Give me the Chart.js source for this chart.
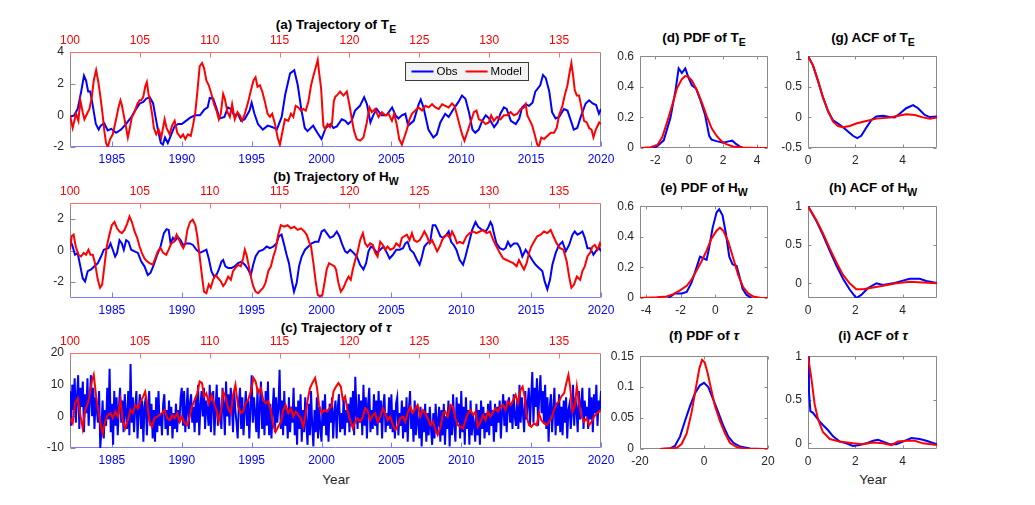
<!DOCTYPE html>
<html>
<head>
<meta charset="utf-8">
<script src="https://cdn.jsdelivr.net/npm/chart.js@4.4.1/dist/chart.umd.min.js"></script>
<style>
  body { margin: 0; width: 1035px; height: 505px; overflow: hidden; position: relative; background: #fff;
         font-family: "Liberation Sans", Arial, sans-serif; }
  canvas { position: absolute; }
  .ttl { position: absolute; font-weight: bold; font-size: 13.5px; line-height: 16px; text-align: center; color: #000; white-space: nowrap; }
  .ttl sub { font-size: 10.5px; vertical-align: -4px; line-height: 0; }
  .xl { position: absolute; font-size: 13.5px; line-height: 16px; color: #262626; text-align: center; }
</style>
</head>
<body>
<div class="ttl" style="left:236px;top:17px;width:200px">(a) Trajectory of T<sub>E</sub></div>
<div class="ttl" style="left:236px;top:169px;width:200px">(b) Trajectory of H<sub>W</sub></div>
<div class="ttl" style="left:236px;top:320px;width:200px">(c) Trajectory of <i>τ</i></div>
<div class="ttl" style="left:634px;top:30px;width:140px">(d) PDF of T<sub>E</sub></div>
<div class="ttl" style="left:634px;top:180px;width:140px">(e) PDF of H<sub>W</sub></div>
<div class="ttl" style="left:634px;top:328px;width:140px">(f) PDF of <i>τ</i></div>
<div class="ttl" style="left:803px;top:30px;width:140px">(g) ACF of T<sub>E</sub></div>
<div class="ttl" style="left:803px;top:180px;width:140px">(h) ACF of H<sub>W</sub></div>
<div class="ttl" style="left:803px;top:328px;width:140px">(i) ACF of <i>τ</i></div>
<div class="xl" style="left:296px;top:472px;width:80px">Year</div>
<div class="xl" style="left:833px;top:472px;width:80px">Year</div>
<script>
// ---- axis ticks ----
const yearTicks = [1985, 1990, 1995, 2000, 2005, 2010, 2015, 2020];
const modelTicks = [100, 105, 110, 115, 120, 125, 130, 135];
const teTicks = [-2, 0, 2, 4];
const hwTicks = [-2, 0, 2];
const tauTicks = [-10, 0, 10, 20];
const pdfTeXTicks = [-2, 0, 2, 4];
const pdfHwXTicks = [-4, -2, 0, 2];
const pdfTauXTicks = [-20, 0, 20];
const pdfYTicks = [0, 0.2, 0.4, 0.6];
const pdfTauYTicks = [0, 0.05, 0.1, 0.15];
const lagTicks = [0, 2, 4];
const acfTeYTicks = [-0.5, 0, 0.5, 1];
const acfYTicks = [0, 0.5, 1];

// ---- (a) T_E trajectories ----
const teObsYear = [
  1982.0,1982.3,1982.55,1982.8,1983.0,1983.15,1983.3,1983.45,1983.65,1983.85,
  1984.05,1984.2,1984.45,1984.7,1984.95,1985.3,1985.65,1986.0,1986.4,1986.65,
  1987.0,1987.25,1987.45,1987.7,1987.95,1988.1,1988.3,1988.5,1988.65,1988.8,
  1989.0,1989.25,1989.5,1989.75,1990.0,1990.3,1990.6,1990.95,1991.3,1991.6,
  1991.85,1992.0,1992.25,1992.5,1992.7,1993.05,1993.3,1993.5,1993.75,1994.0,
  1994.25,1994.5,1994.85,1995.0,1995.2,1995.45,1995.8,1996.15,1996.5,1996.8,
  1997.15,1997.4,1997.75,1998.05,1998.3,1998.55,1998.8,1999.0,1999.4,1999.7,
  2000.0,2000.3,2000.65,2000.85,2001.1,2001.45,2001.7,2001.9,2002.15,2002.4,
  2002.75,2003.05,2003.25,2003.5,2003.7,2003.95,2004.3,2004.65,2005.05,2005.3,
  2005.5,2005.75,2006.0,2006.2,2006.6,2006.95,2007.1,2007.3,2007.65,2008.0,
  2008.25,2008.5,2008.85,2009.1,2009.45,2009.8,2010.05,2010.3,2010.55,2010.8,
  2011.0,2011.25,2011.5,2011.75,2012.0,2012.35,2012.6,2012.8,2013.05,2013.25,
  2013.55,2013.9,2014.15,2014.35,2014.6,2014.85,2015.1,2015.3,2015.65,2015.85,
  2016.05,2016.3,2016.5,2016.75,2017.0,2017.35,2017.6,2017.85,2018.05,2018.3,
  2018.55,2018.9,2019.15,2019.4,2019.65,2019.85,2020.0];
const teObsVal = [
  -0.1,0.0,0.4,1.5,2.5,2.2,1.5,1.5,0.5,-0.55,
  -0.9,-0.65,-0.5,-0.95,-0.85,-1.1,-0.9,-0.55,-0.1,0.3,
  0.75,0.85,1.05,1.15,0.75,0.0,-0.95,-1.75,-1.85,-1.4,
  -1.75,-1.2,-0.65,-0.55,-0.55,-0.35,-0.15,0.0,0.0,0.35,
  0.5,1.1,1.05,0.4,-0.2,-0.1,0.5,0.4,0.0,0.1,
  -0.35,-0.25,0.3,0.8,0.1,-0.55,-0.9,-0.65,-0.75,-0.9,
  -0.1,1.3,2.65,2.85,1.9,0.4,-0.8,-1.0,-0.65,-1.1,
  -1.5,-0.8,-0.55,-0.8,-0.7,-0.25,-0.35,-0.55,-0.35,0.3,
  0.6,1.15,0.7,-0.45,0.0,0.4,0.0,0.0,0.5,0.0,
  -0.2,0.0,0.1,-0.65,-0.35,0.7,1.0,0.5,-0.9,-1.4,
  -1.2,-0.45,0.1,-0.1,0.4,0.85,1.25,1.05,0.2,-0.9,
  -1.1,-0.9,-0.35,0.0,-0.2,-0.75,-0.45,0.1,0.5,0.4,
  -0.35,-0.55,-0.2,0.5,0.7,0.6,0.8,1.5,1.9,2.55,
  2.35,1.5,0.2,-0.2,-0.1,0.4,0.3,-0.35,-0.9,-0.8,
  -0.1,0.75,0.95,0.75,0.65,0.1,0.4];
const teModelTime = [
  100.0,100.19,100.43,100.6,100.74,100.91,101.03,101.22,101.39,101.56,
  101.7,101.87,102.03,102.18,102.34,102.46,102.58,102.7,102.87,103.06,
  103.3,103.47,103.61,103.71,103.85,104.02,104.14,104.26,104.43,104.62,
  104.81,104.98,105.1,105.24,105.38,105.5,105.62,105.77,105.89,106.0,
  106.17,106.34,106.53,106.77,106.91,107.13,107.3,107.49,107.68,107.92,
  108.09,108.25,108.44,108.64,108.8,108.97,109.11,109.28,109.45,109.59,
  109.76,109.93,110.12,110.31,110.48,110.65,110.79,110.96,111.08,111.27,
  111.44,111.6,111.79,111.99,112.15,112.32,112.51,112.75,112.94,113.13,
  113.28,113.42,113.59,113.76,113.95,114.14,114.31,114.47,114.67,114.86,
  115.02,115.19,115.38,115.62,115.81,115.98,116.15,116.34,116.53,116.7,
  116.87,117.06,117.25,117.42,117.58,117.73,117.82,117.97,118.13,118.25,
  118.44,118.61,118.75,118.88,119.0,119.09,119.33,119.57,119.81,120.0,
  120.17,120.33,120.52,120.76,121.0,121.24,121.43,121.6,121.84,122.08,
  122.32,122.56,122.8,123.04,123.2,123.4,123.56,123.75,123.92,124.11,
  124.3,124.47,124.71,124.95,125.19,125.43,125.67,125.91,126.15,126.39,
  126.63,126.86,127.1,127.34,127.51,127.7,127.89,128.06,128.23,128.42,
  128.66,128.9,129.09,129.26,129.5,129.74,129.97,130.14,130.33,130.57,
  130.81,131.05,131.29,131.53,131.77,132.01,132.25,132.49,132.61,132.73,
  132.92,133.08,133.25,133.44,133.56,133.73,133.92,134.16,134.4,134.64,
  134.83,135.0,135.24,135.4,135.6,135.72,135.88,136.0,136.12,136.27,
  136.43,136.6,136.79,136.98,137.15,137.32,137.46,137.63,137.87,138.0];
const teModelVal = [
  0.0,-0.8,0.1,-0.35,0.95,0.2,-0.25,0.1,0.4,1.15,
  2.2,2.85,2.1,1.15,0.0,-1.0,-1.75,-2.0,-1.5,-1.2,
  -0.25,0.5,0.95,0.65,0.0,-0.8,-1.4,-0.9,-0.1,0.2,
  0.7,0.95,0.95,1.15,1.8,2.1,1.35,0.65,0.0,-0.8,
  -1.2,-0.9,-1.4,-0.25,-0.8,-1.2,-0.65,-0.35,-1.1,-1.4,
  -1.2,-1.5,-1.2,-1.3,-0.65,0.2,1.45,3.1,3.3,3.0,
  2.2,1.9,1.35,0.7,0.3,-0.25,0.1,1.35,1.05,0.2,
  -0.1,0.7,-0.25,0.2,0.0,-0.35,0.1,0.85,1.55,2.2,
  2.4,1.8,1.9,1.5,0.85,0.1,-0.1,0.1,-0.55,-1.4,
  -1.85,-1.1,-0.25,-0.35,0.1,-0.1,0.6,0.5,0.3,0.4,
  0.3,0.85,1.9,2.5,3.0,3.5,2.75,1.7,-0.65,-0.85,
  -0.55,-0.75,-0.5,0.9,1.2,1.25,1.5,1.25,1.5,0.65,
  -0.25,-1.0,-1.5,-1.6,-1.4,-0.45,0.5,0.2,0.4,-0.1,
  0.2,0.0,0.1,-0.35,0.1,-0.65,-1.5,-1.85,-1.4,-0.9,
  -0.25,0.1,0.3,0.5,0.3,0.6,0.5,0.7,0.5,0.4,
  0.7,0.6,0.5,0.75,0.6,0.0,-0.65,-1.2,-1.6,-1.1,
  -0.45,0.2,0.3,-0.25,-0.35,-0.55,-0.45,0.0,-0.35,-0.1,
  -0.25,0.0,0.0,0.2,0.0,0.1,0.4,0.5,0.7,0.0,
  -0.35,-0.65,-1.2,-1.85,-1.95,-1.4,-1.5,-1.3,-1.1,-1.1,
  -0.8,0.0,0.6,1.25,1.9,2.55,3.3,2.55,1.6,1.25,
  1.25,0.5,-0.35,-0.45,-0.8,-0.9,-1.4,-0.9,-0.45,-0.55];

// ---- (b) H_W trajectories ----
const hwObsYear = [
  1982.0,1982.19,1982.36,1982.55,1982.74,1982.91,1983.08,1983.27,1983.51,1983.75,
  1983.99,1984.22,1984.42,1984.58,1984.75,1984.9,1985.06,1985.23,1985.37,1985.54,
  1985.71,1985.85,1986.02,1986.19,1986.38,1986.62,1986.86,1987.1,1987.33,1987.57,
  1987.77,1988.0,1988.24,1988.48,1988.72,1988.91,1989.06,1989.2,1989.37,1989.54,
  1989.73,1989.92,1990.09,1990.33,1990.56,1990.8,1991.04,1991.28,1991.52,1991.76,
  1991.93,1992.12,1992.31,1992.48,1992.65,1992.84,1992.96,1993.12,1993.32,1993.56,
  1993.79,1994.03,1994.27,1994.51,1994.75,1994.94,1995.11,1995.28,1995.52,1995.83,
  1996.07,1996.31,1996.55,1996.78,1996.95,1997.14,1997.33,1997.5,1997.67,1997.86,
  1998.03,1998.22,1998.39,1998.58,1998.82,1999.06,1999.3,1999.54,1999.78,2000.01,
  2000.2,2000.37,2000.61,2000.85,2001.09,2001.28,2001.45,2001.69,2001.85,2002.05,
  2002.29,2002.52,2002.76,2003.0,2003.19,2003.36,2003.53,2003.72,2003.96,2004.2,
  2004.44,2004.68,2004.87,2005.11,2005.35,2005.59,2005.83,2006.0,2006.16,2006.35,
  2006.59,2006.83,2007.02,2007.19,2007.36,2007.55,2007.79,2007.96,2008.15,2008.31,
  2008.5,2008.7,2008.86,2009.1,2009.27,2009.46,2009.65,2009.89,2010.13,2010.3,
  2010.54,2010.78,2011.02,2011.21,2011.5,2011.74,2011.9,2012.09,2012.21,2012.33,
  2012.52,2012.76,2013.0,2013.17,2013.34,2013.53,2013.77,2014.01,2014.2,2014.37,
  2014.61,2014.85,2015.08,2015.32,2015.56,2015.8,2015.97,2016.16,2016.35,2016.52,
  2016.76,2017.0,2017.24,2017.48,2017.72,2017.96,2018.12,2018.31,2018.51,2018.67,
  2018.84,2019.03,2019.22,2019.46,2019.7,2019.87,2020.0];
const hwObsVal = [
  0.7,0.25,-0.27,-0.17,-1.0,-1.75,-1.95,-1.3,-1.2,-1.0,
  -0.8,-0.38,0.05,0.1,0.15,0.45,0.05,-0.38,-0.15,0.65,
  0.45,0.05,0.65,0.55,0.05,-0.05,-0.15,-0.7,-1.0,-1.55,
  -1.4,-0.9,-0.27,0.25,1.1,1.35,1.3,0.45,0.8,0.65,
  0.85,0.65,0.35,0.45,0.45,0.35,0.05,-0.15,-0.05,0.05,
  -0.5,-1.3,-1.65,-1.55,-1.2,-0.7,-0.6,-1.0,-1.1,-1.1,
  -1.0,-0.8,-0.7,-0.9,-1.2,-1.55,-0.9,-0.38,-0.05,0.05,
  0.25,0.15,0.25,0.45,0.9,1.0,0.35,-0.27,-0.8,-1.85,
  -2.6,-2.05,-1.0,-0.38,0.05,0.25,0.45,0.55,0.55,1.2,
  1.3,1.1,0.8,0.9,1.2,0.9,0.45,-0.05,-0.15,0.05,
  -0.15,-0.38,-0.9,-1.2,-0.8,-0.05,0.25,0.15,-0.15,0.05,
  0.25,-0.15,-0.5,-0.27,0.05,0.05,0.15,0.45,0.55,0.05,
  -0.15,-0.6,-0.9,-0.38,0.25,0.45,0.65,1.6,1.6,1.3,
  0.9,0.8,0.9,1.2,0.55,0.35,0.05,-0.6,-0.9,-0.38,
  0.45,1.3,1.8,1.5,1.3,1.2,1.4,1.8,1.6,1.1,
  0.45,0.15,0.05,0.15,0.55,0.25,0.45,0.45,0.15,-0.38,
  0.05,-0.27,-0.6,-0.9,-1.1,-1.3,-1.95,-2.45,-1.85,-0.9,
  -0.15,0.35,0.55,-0.05,0.35,1.0,1.2,1.0,1.1,1.2,
  0.8,0.15,0.15,-0.27,0.05,0.15,-0.05];
const hwModelTime = [
  100.0,100.12,100.26,100.41,100.6,100.79,100.98,101.15,101.32,101.46,
  101.63,101.79,101.99,102.15,102.3,102.46,102.63,102.82,102.99,103.18,
  103.37,103.54,103.71,103.9,104.09,104.26,104.43,104.62,104.81,104.98,
  105.14,105.33,105.53,105.69,105.93,106.1,106.29,106.48,106.67,106.89,
  107.06,107.25,107.44,107.63,107.82,107.97,108.11,108.25,108.4,108.59,
  108.78,108.97,109.11,109.28,109.45,109.59,109.76,109.93,110.07,110.24,
  110.41,110.6,110.79,110.96,111.12,111.32,111.51,111.67,111.84,112.03,
  112.22,112.39,112.51,112.63,112.8,112.94,113.11,113.28,113.47,113.66,
  113.83,113.99,114.19,114.38,114.55,114.71,114.9,115.09,115.33,115.57,
  115.81,116.05,116.29,116.53,116.77,116.94,117.11,117.25,117.42,117.58,
  117.73,117.89,118.06,118.21,118.37,118.54,118.73,118.92,119.04,119.21,
  119.38,119.57,119.76,119.93,120.09,120.24,120.41,120.57,120.76,120.96,
  121.12,121.29,121.48,121.67,121.84,122.01,122.2,122.39,122.56,122.73,
  122.92,123.16,123.35,123.59,123.75,123.92,124.11,124.3,124.47,124.64,
  124.83,125.02,125.19,125.36,125.55,125.74,125.91,126.07,126.27,126.46,
  126.63,126.79,126.98,127.18,127.34,127.51,127.7,127.89,128.13,128.37,
  128.61,128.85,129.09,129.33,129.57,129.81,130.05,130.29,130.52,130.76,
  131.0,131.24,131.48,131.72,131.96,132.13,132.3,132.49,132.68,132.85,
  133.01,133.2,133.44,133.68,133.92,134.16,134.4,134.59,134.83,135.07,
  135.31,135.55,135.72,135.88,136.07,136.27,136.51,136.67,136.84,137.03,
  137.22,137.39,137.56,137.75,137.92,138.0];
const hwModelVal = [
  0.05,0.9,1.0,0.25,-0.27,-0.38,-0.15,-0.27,0.05,-0.27,
  -0.27,-0.8,-1.85,-2.35,-2.15,-1.0,0.25,1.0,1.6,1.8,
  1.4,1.2,1.1,1.3,1.7,2.15,1.8,1.2,0.8,0.25,
  -0.15,-0.5,-0.7,-0.8,-0.9,-0.5,-0.05,0.15,-0.15,-0.27,
  0.05,0.45,0.55,1.0,0.65,0.35,0.15,0.45,1.3,1.8,
  1.95,1.6,0.9,-0.38,-1.65,-2.6,-2.7,-2.15,-2.35,-1.85,
  -1.55,-1.75,-1.95,-2.25,-2.05,-1.65,-1.85,-1.3,-1.1,-0.9,
  -1.0,-0.5,0.05,-0.27,-1.0,-1.65,-2.25,-2.6,-2.7,-2.5,
  -2.35,-2.05,-1.3,-1.0,-0.38,0.05,1.0,1.6,1.5,1.6,
  1.4,1.5,1.3,1.4,1.2,1.0,0.55,0.25,-0.8,-1.95,
  -2.8,-2.9,-2.8,-2.05,-1.2,-0.8,-0.9,-1.0,-1.2,-2.05,
  -2.6,-2.35,-1.95,-1.65,-1.85,-1.2,-0.6,-0.15,0.65,1.1,
  0.45,0.25,0.45,0.35,-0.15,-0.38,0.55,0.35,0.05,0.25,
  0.05,0.15,0.45,0.25,0.8,0.9,1.0,0.65,1.1,0.65,
  0.55,0.65,0.9,1.2,0.9,0.45,0.65,0.35,-0.05,0.25,
  0.65,0.9,1.0,0.8,1.2,0.9,0.45,0.55,0.45,0.9,
  1.1,1.2,1.1,1.2,1.3,1.1,1.2,0.65,0.25,-0.15,
  -0.5,-0.6,-0.7,-0.8,-1.0,-0.6,-0.9,-1.2,-0.8,-0.15,
  0.25,0.55,0.9,1.0,1.2,1.1,1.3,0.9,0.45,0.15,
  0.05,-0.7,-1.65,-2.35,-2.15,-1.65,-1.85,-1.3,-1.0,-0.38,
  -0.15,0.25,0.35,0.05,0.45,0.25];

// ---- (c) tau trajectories: obs monthly from Jan 1982 ----
const tauObsMonthly = [
  8,-3,10,2,12,-2,6,13,-4,9,3,11,
  -5,7,1,12,-3,5,13,0,9,-4,6,2,
  -2,8,-10,-4,5,-7,2,-3,9,-1,15,-5,
  4,-9,8,-3,6,-6,3,9,-2,5,-5,7,
  1,-4,8,-6,16.5,-2,6,-5,3,8,-7,2,
  7,-4,5,-8,3,6,-6,2,8,-3,4,-7,
  2,-8,6,-5,8,-3,1,-6,4,7,-4,2,
  -6,5,-3,3,-7,1,-4,4,-5,2,-2,6,
  9,-3,8,-5,2,9,-4,4,7,-2,3,-5,
  6,-2,10,-6,3,8,0,9,-4,5,2,-3,
  10,-5,4,8,-6,2,10,-3,6,1,-4,9,
  3,-6,11,0,7,-3,9,4,-5,8,2,-2,
  -7,4,9,-4,6,-6,2,8,-3,5,-7,3,
  13,-2,6,1,-5,9,-7,3,11,-4,5,-6,
  8,-3,11,-6,4,-7,2,9,-5,6,-2,3,
  14.7,-4,5,-6,8,-3,2,-7,6,-5,3,-2,
  9,-6,3,-9,5,-4,7,-8,2,-5,6,-3,
  -9,4,-6,8,-3,-9.5,2,-5,6,-7,3,-4,
  -8,5,-3,7,-6,2,-8,4,-2,6,-7,1,
  5,-7,3,7,-5,1,-4,6,-6,2,-2,4,
  -5,6,-3,8,-6,12.5,1,-4,7,-2,5,-6,
  10,-3,6,-7,4,9,-5,2,-4,7,-3,5,
  -6,8,-2,5,-7,3,7,-5,1,-3,6,-4,
  7,-5,2,-7,4,6,-6,1,-3,5,-7,3,
  -5,6,-8,2,8,-4,1,-8,5,-6,3,-2,
  -7,3,-9.5,2,-5,4,-8,1,-6,3,-4,-9,
  1,-7,4,-5,-2,3,-8,2,-6,4,-9,0,
  -4,5,-9.5,3,-6,7,-3,-8,6,-2,4,-7,
  8,-5,3,-9,6,-4,2,-9,5,-6,1,-3,
  -8,4,-6,2,-9,5,-4,3,-7,1,-5,4,
  -6,5,-3,2,-8,4,-5,3,-2,5,-7,1,
  7,-3,5,-5,3,6,-2,4,-4,7,0,-3,
  5,-4,10,-2,6,1,-5,8,-1,4,9,-3,
  6,14,-2,9,3,12,-3,7,13,1,8,-2,
  10,-4,6,-8,3,7,-5,2,9,-6,4,-3,
  7,-5,3,-6,5,-2,6,-7,2,4,-4,1,
  10,-3,6,2,-5,8,-1,4,9,-4,5,0,
  3,-4,9,-1,6,-5,7,1,10,-3,5,2,
  8];
const tauModelTime = [
  100.0,100.19,100.36,100.55,100.74,100.91,101.08,101.27,101.39,101.56,
  101.7,101.87,102.03,102.22,102.34,102.51,102.7,102.89,103.06,103.23,
  103.42,103.61,103.78,103.95,104.14,104.33,104.5,104.67,104.86,105.05,
  105.24,105.38,105.53,105.69,105.86,106.05,106.24,106.41,106.58,106.77,
  106.96,107.13,107.3,107.49,107.68,107.85,108.01,108.21,108.4,108.56,
  108.73,108.92,109.11,109.28,109.45,109.59,109.76,109.93,110.12,110.31,
  110.48,110.65,110.84,110.96,111.12,111.32,111.51,111.67,111.84,112.03,
  112.22,112.39,112.56,112.75,112.94,113.13,113.28,113.47,113.66,113.83,
  113.99,114.19,114.38,114.55,114.71,114.9,115.09,115.26,115.43,115.62,
  115.81,115.98,116.15,116.34,116.53,116.7,116.87,117.01,117.18,117.34,
  117.54,117.68,117.82,118.01,118.21,118.37,118.54,118.73,118.85,119.04,
  119.21,119.38,119.52,119.69,119.85,120.05,120.24,120.41,120.57,120.76,
  120.96,121.12,121.29,121.48,121.67,121.84,122.01,122.2,122.39,122.56,
  122.73,122.92,123.11,123.3,123.47,123.63,123.83,123.99,124.16,124.35,
  124.54,124.71,124.88,125.07,125.26,125.43,125.6,125.79,125.98,126.15,
  126.31,126.51,126.7,126.86,127.03,127.22,127.41,127.58,127.75,127.94,
  128.13,128.3,128.47,128.66,128.85,129.02,129.18,129.38,129.57,129.74,
  129.9,130.09,130.29,130.45,130.62,130.81,131.0,131.17,131.34,131.53,
  131.72,131.89,132.06,132.25,132.39,132.53,132.68,132.85,133.01,133.2,
  133.4,133.56,133.73,133.92,134.11,134.28,134.45,134.64,134.83,135.0,
  135.17,135.36,135.52,135.67,135.79,135.96,136.12,136.27,136.43,136.6,
  136.79,136.98,137.15,137.32,137.51,137.7,137.87,138.0];
const tauModelVal = [
  -0.6,-2.2,4.1,5.7,0.4,-3.8,2,4.1,6.3,11,
  13.1,6.3,1.5,-3.3,-5.4,-1.7,0.4,1,-0.6,1.5,
  -0.1,5.2,-1.7,-3.8,-1.2,2,1,3.6,2.5,4.7,
  6.3,7.8,3.6,-1.7,-3.3,-0.6,-0.1,0.4,1,2,
  -0.6,-1.2,0.4,-0.6,1,-1.7,-0.1,-2.2,-2.8,-0.1,
  3.1,5.2,7.3,11,10.5,6.3,7.3,4.1,6.8,4.1,
  2,-1.7,2.5,7.8,6.3,2.5,1,6.8,10,3.1,
  1,1.5,4.1,5.2,7.8,12.1,11,7.3,8.9,5.2,
  4.1,4.7,1.5,-2.8,-4.9,-3.3,-1.7,2,3.6,1,
  2.5,-0.1,1.5,0.4,-0.6,-3.3,1,5.2,8.9,10.5,
  12.1,8.9,3.6,1,2,1.5,2.5,3.1,7.8,9.4,
  10.5,9.4,5.2,6.3,2,-1.2,-3.8,-1.7,-0.6,-1.7,
  -0.1,2.5,2,-1.2,0.4,1,-1.7,-0.1,2.5,1,
  -1.2,-0.1,-2.8,-4.3,-2.8,-0.6,-0.1,-1.7,1,3.1,
  1,2.5,3.6,-0.1,2,1,-0.6,-2.8,-1.7,-4.3,
  -5.9,-3.3,1,1.5,-0.1,3.6,3.1,-0.6,-2.8,-3.3,
  -3.8,-1.2,1,2,0.4,1.5,-3.3,-1.7,0.4,-1.2,
  1.5,-0.1,1.5,2.5,1.5,3.1,3.6,2,4.7,3.6,
  5.2,6.8,4.1,8.4,9.4,6.3,-0.1,-2.8,-3.3,-2.2,
  -2.8,1,-1.2,-2.2,-2.8,-1.7,-0.6,2,4.1,4.7,
  6.3,7.3,10.5,13.1,9.4,1.5,3.1,9.4,4.1,-0.1,
  -1.7,-0.6,-2.8,-1.7,-0.1,1,1.5,2];

// ---- PDFs ----
const pdfTeObsX = [-2.17,-1.9,-1.5,-1.1,-0.8,-0.62,-0.43,-0.23,-0.04,0.16,0.4,0.64,0.93,1.18,1.32,1.61,2.0,2.39,2.54,2.78,3.07,3.17];
const pdfTeObsY = [0,0.01,0.05,0.2,0.38,0.52,0.49,0.52,0.46,0.41,0.39,0.32,0.22,0.08,0.055,0.045,0.035,0.045,0.048,0.025,0.005,0];
const pdfTeModelX = [-2.85,-2.27,-1.88,-1.59,-1.3,-1.0,-0.72,-0.43,-0.23,-0.04,0.16,0.45,0.74,1.03,1.32,1.61,1.9,2.19,2.58,3.17,3.94,4.62];
const pdfTeModelY = [0,0.005,0.02,0.07,0.17,0.28,0.39,0.45,0.47,0.465,0.44,0.38,0.3,0.21,0.13,0.08,0.045,0.025,0.01,0.003,0,0];
const pdfHwObsX = [-2.71,-2.33,-1.94,-1.65,-1.37,-1.08,-0.88,-0.69,-0.5,-0.35,-0.15,0.08,0.23,0.42,0.62,0.81,1.0,1.23,1.38,1.58,1.81,2.1];
const pdfHwObsY = [0,0.03,0.03,0.04,0.1,0.2,0.27,0.26,0.25,0.33,0.46,0.56,0.58,0.54,0.42,0.27,0.22,0.21,0.15,0.06,0.02,0];
const pdfHwModelX = [-4.35,-3.38,-2.81,-2.42,-2.04,-1.65,-1.37,-1.08,-0.79,-0.5,-0.21,0.08,0.27,0.46,0.75,1.04,1.33,1.62,1.9,2.19,2.58,3.05];
const pdfHwModelY = [0,0.005,0.01,0.025,0.05,0.08,0.12,0.18,0.24,0.31,0.39,0.44,0.46,0.44,0.37,0.26,0.15,0.07,0.03,0.01,0.002,0];
const pdfTauObsX = [-13.75,-10.6,-9.1,-7.5,-5.9,-4.4,-2.8,-1.25,0,1.35,2.9,4.5,6.0,7.6,9.2,11.25,14.4,18.5];
const pdfTauObsY = [0,0.001,0.005,0.02,0.046,0.069,0.09,0.103,0.107,0.1,0.08,0.059,0.038,0.02,0.01,0.004,0.001,0];
const pdfTauModelX = [-13.75,-8.5,-7.0,-5.4,-3.85,-2.5,-1.46,-0.6,0.2,1.04,2.1,3.4,5.0,6.6,8.1,10.2,13.3,20];
const pdfTauModelY = [0,0.002,0.008,0.025,0.06,0.1,0.13,0.144,0.14,0.125,0.1,0.07,0.045,0.025,0.01,0.003,0.0005,0];

// ---- ACFs (lag in years) ----
const acfTeObsLag = [0,0.21,0.42,0.63,0.85,1.06,1.27,1.48,1.69,1.9,2.08,2.25,2.46,2.68,2.89,3.17,3.45,3.66,3.87,4.15,4.44,4.65,4.93,5.14,5.45];
const acfTeObs = [1,0.85,0.6,0.33,0.1,-0.05,-0.1,-0.16,-0.23,-0.3,-0.34,-0.3,-0.17,-0.04,0.015,0.025,0.005,0,0.06,0.15,0.2,0.15,0.04,0.005,0.015];
const acfTeModelLag = [0,0.21,0.42,0.63,0.85,1.06,1.27,1.48,1.76,2.04,2.46,2.89,3.45,3.87,4.15,4.51,4.86,5.14,5.45];
const acfTeModel = [1,0.85,0.6,0.33,0.1,-0.07,-0.14,-0.16,-0.14,-0.1,-0.06,-0.02,0,0.03,0.05,0.04,0,-0.02,0];
const acfHwObsLag = [0,0.35,0.63,0.92,1.2,1.48,1.76,2.04,2.25,2.54,2.89,3.17,3.59,4.01,4.3,4.72,5.0,5.45];
const acfHwObs = [1,0.81,0.63,0.42,0.23,0.06,-0.08,-0.19,-0.15,-0.06,0,-0.02,0,0.035,0.06,0.06,0.03,0.005];
const acfHwModelLag = [0,0.35,0.63,0.92,1.2,1.48,1.76,2.04,2.32,2.75,3.17,3.73,4.3,4.86,5.45];
const acfHwModel = [1,0.82,0.65,0.45,0.27,0.11,0.0,-0.075,-0.075,-0.055,-0.03,0,0.02,0.01,0];
const acfTauObsLag = [0,0.04,0.1,0.21,0.35,0.49,0.63,0.85,1.06,1.34,1.62,1.9,2.18,2.46,2.75,2.96,3.17,3.45,3.73,4.01,4.37,4.72,5.0,5.45];
const acfTauObs = [1,0.6,0.37,0.35,0.3,0.25,0.21,0.15,0.08,0.02,0,-0.03,-0.02,0,0.03,0.04,0.02,-0.01,-0.01,0.02,0.06,0.05,0.03,-0.01];
const acfTauModelLag = [0,0.14,0.28,0.42,0.63,0.92,1.34,1.9,2.32,2.75,3.17,3.52,3.8,4.15,4.51,4.86,5.45];
const acfTauModel = [1,0.75,0.45,0.28,0.13,0.05,0.02,0,-0.01,0.01,0,-0.02,0.02,0.03,0.03,0,-0.02];

// ---------------------------------------------------------------
const FONT = '"Liberation Sans", Arial, sans-serif';
const RED = '#ff0000', BLUE = '#0000ff', INK = '#262626', FRAME = '#8a8a8a';

function pts(xs, ys) { return xs.map((x, i) => ({ x: x, y: ys[i] })); }

function series(data, color, xAxisID, order) {
  return { data: data, borderColor: color, borderWidth: 2, pointRadius: 0, fill: false,
           tension: 0, xAxisID: xAxisID, yAxisID: 'y', order: order };
}

function axis(pos, min, max, ticks, color, size, pad) {
  return {
    type: 'linear', position: pos, min: min, max: max,
    grid: { display: false, drawTicks: false }, border: { display: false },
    afterBuildTicks: s => { s.ticks = ticks.map(v => ({ value: v })); },
    afterFit: s => { if (pos === 'left') s.width = size; else s.height = size; },
    ticks: { color: color, padding: pad, autoSkip: false, maxRotation: 0,
             font: { family: FONT, size: 12 }, callback: v => String(v) }
  };
}

// frame + inward tick marks
const framePlugin = {
  id: 'frame',
  beforeDatasetsDraw(chart, args, opts) {
    const { ctx, chartArea: a } = chart;
    const L = Math.round(a.left) + 0.5, R = Math.round(a.right) - 0.5;
    const T = Math.round(a.top) + 0.5, B = Math.round(a.bottom) - 0.5;
    ctx.save();
    ctx.lineWidth = 1;
    opts.edges.forEach(e => {
      ctx.strokeStyle = e.color;
      ctx.beginPath();
      if (e.side === 'top') { ctx.moveTo(L, T); ctx.lineTo(R, T); }
      if (e.side === 'bottom') { ctx.moveTo(L, B); ctx.lineTo(R, B); }
      if (e.side === 'left') { ctx.moveTo(L, T); ctx.lineTo(L, B); }
      if (e.side === 'right') { ctx.moveTo(R, T); ctx.lineTo(R, B); }
      if (e.scale) {
        const sc = chart.scales[e.scale];
        sc.ticks.forEach(t => {
          const p = Math.round(sc.getPixelForValue(t.value)) + 0.5;
          if (e.side === 'top') { ctx.moveTo(p, T); ctx.lineTo(p, T + e.len); }
          if (e.side === 'bottom') { ctx.moveTo(p, B); ctx.lineTo(p, B - e.len); }
          if (e.side === 'left') { ctx.moveTo(L, p); ctx.lineTo(L + e.len, p); }
          if (e.side === 'right') { ctx.moveTo(R, p); ctx.lineTo(R - e.len, p); }
        });
      }
      ctx.stroke();
    });
    ctx.restore();
  }
};

// legend box inside panel (a)
const boxLegendPlugin = {
  id: 'boxLegend',
  afterDatasetsDraw(chart, args, opts) {
    if (!opts.show) return;
    const { ctx, chartArea: a } = chart;
    const x = Math.round(a.left + opts.dx) + 0.5, y = Math.round(a.top + opts.dy) + 0.5;
    ctx.save();
    ctx.fillStyle = '#f2f2f2';
    ctx.strokeStyle = '#3c3c3c';
    ctx.lineWidth = 1;
    ctx.fillRect(x, y, opts.w, opts.h);
    ctx.strokeRect(x, y, opts.w, opts.h);
    ctx.font = '11.5px ' + FONT;
    ctx.textBaseline = 'middle';
    let cx = x + 6;
    const cy = y + opts.h / 2;
    chart.data.datasets.slice().sort((p, q) => q.order - p.order).forEach(ds => {
      ctx.strokeStyle = ds.borderColor;
      ctx.lineWidth = 2;
      ctx.beginPath(); ctx.moveTo(cx, cy); ctx.lineTo(cx + 22, cy); ctx.stroke();
      ctx.fillStyle = '#000';
      ctx.fillText(ds.label, cx + 25, cy + 0.5);
      cx += 25 + ctx.measureText(ds.label).width + 8;
    });
    ctx.restore();
  }
};

function panel(box, datasets, scales, edges, legend) {
  const c = document.createElement('canvas');
  const w = box.r - box.l + box.ml + box.mr, h = box.b - box.t + box.mt + box.mb;
  c.width = w; c.height = h;
  c.style.left = (box.l - box.ml) + 'px';
  c.style.top = (box.t - box.mt) + 'px';
  document.body.appendChild(c);
  return new Chart(c.getContext('2d'), {
    type: 'line',
    data: { datasets: datasets },
    options: {
      responsive: false, animation: false, events: [],
      layout: { padding: { left: 0, right: box.mr, top: box.padTop, bottom: 0 } },
      scales: scales,
      plugins: { legend: { display: false }, tooltip: { enabled: false },
                 frame: { edges: edges }, boxLegend: legend || { show: false } }
    },
    plugins: [framePlugin, boxLegendPlugin]
  });
}

function trajPanel(top, bottom, yMin, yMax, yTicks, obs, model, legend) {
  const box = { l: 70, r: 601, t: top, b: bottom, ml: 40, mr: 22, mt: 20, mb: 20, padTop: 0 };
  const ds = [
    Object.assign(series(obs, BLUE, 'x', 1), { label: 'Obs' }),
    Object.assign(series(model, RED, 'xt', 0), { label: 'Model' })
  ];
  const scales = {
    x: axis('bottom', 1982, 2020, yearTicks, BLUE, 20, 5),
    xt: Object.assign(axis('top', 100, 138, modelTicks, RED, 20, 4), { axis: 'x' }),
    y: axis('left', yMin, yMax, yTicks, INK, 40, 6)
  };
  const edges = [
    { side: 'right', color: FRAME },
    { side: 'left', color: FRAME, scale: 'y', len: 5 },
    { side: 'top', color: '#ff7070', scale: 'xt', len: 5 },
    { side: 'bottom', color: '#7b7bff', scale: 'x', len: 5 }
  ];
  panel(box, ds, scales, edges, legend);
}

function smallPanel(left, top, bottom, xMin, xMax, xTicks, yMin, yMax, yTicks, obs, model) {
  const box = { l: left, r: left + 129, t: top, b: bottom, ml: 40, mr: 12, mt: 10, mb: 20, padTop: 10 };
  if (left < 700) box.r = left + 128;
  const ds = [series(obs, BLUE, 'x', 1), series(model, RED, 'x', 0)];
  const scales = {
    x: axis('bottom', xMin, xMax, xTicks, INK, 20, 5),
    y: axis('left', yMin, yMax, yTicks, INK, 40, 6)
  };
  const edges = [
    { side: 'top', color: FRAME, scale: 'x', len: 3 },
    { side: 'right', color: FRAME, scale: 'y', len: 3 },
    { side: 'left', color: FRAME, scale: 'y', len: 3 },
    { side: 'bottom', color: FRAME, scale: 'x', len: 3 }
  ];
  panel(box, ds, scales, edges);
}

// (a) (b) (c)
trajPanel(52, 147, -2, 4, teTicks, pts(teObsYear, teObsVal), pts(teModelTime, teModelVal),
          { show: true, dx: 335, dy: 10, w: 123, h: 18 });
trajPanel(203, 298, -3, 3, hwTicks, pts(hwObsYear, hwObsVal), pts(hwModelTime, hwModelVal));
trajPanel(353, 448, -10, 20, tauTicks,
          tauObsMonthly.map((v, i) => ({ x: 1982 + i / 12, y: v })), pts(tauModelTime, tauModelVal));

// (d) (e) (f)
smallPanel(640, 53, 148, -2.9, 4.65, pdfTeXTicks, 0, 0.6, pdfYTicks, pts(pdfTeObsX, pdfTeObsY), pts(pdfTeModelX, pdfTeModelY));
smallPanel(640, 203, 298, -4.35, 3.05, pdfHwXTicks, 0, 0.6, pdfYTicks, pts(pdfHwObsX, pdfHwObsY), pts(pdfHwModelX, pdfHwModelY));
smallPanel(640, 353, 449, -20, 20, pdfTauXTicks, 0, 0.15, pdfTauYTicks, pts(pdfTauObsX, pdfTauObsY), pts(pdfTauModelX, pdfTauModelY));

// (g) (h) (i)
smallPanel(808, 53, 148, 0, 5.45, lagTicks, -0.5, 1, acfTeYTicks, pts(acfTeObsLag, acfTeObs), pts(acfTeModelLag, acfTeModel));
smallPanel(808, 203, 298, 0, 5.45, lagTicks, -0.19, 1, acfYTicks, pts(acfHwObsLag, acfHwObs), pts(acfHwModelLag, acfHwModel));
smallPanel(808, 353, 449, 0, 5.45, lagTicks, -0.065, 1, acfYTicks, pts(acfTauObsLag, acfTauObs), pts(acfTauModelLag, acfTauModel));
</script>
</body>
</html>
